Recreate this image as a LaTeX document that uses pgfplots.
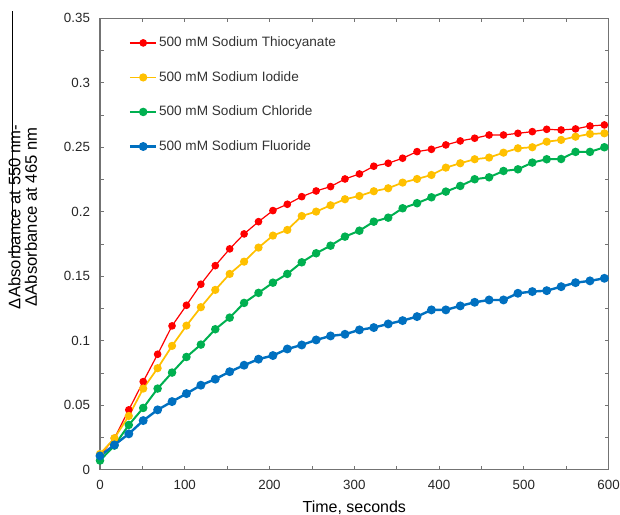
\documentclass[border=0pt]{standalone}
\usepackage{pgfplots}
\usepackage{pgfplotstable}
\pgfplotsset{compat=1.18}
\usepackage{fontspec}
\setmainfont{Liberation Sans}

\definecolor{cscn}{HTML}{FF0000}
\definecolor{ciod}{HTML}{FFC000}
\definecolor{cchl}{HTML}{00B050}
\definecolor{cflu}{HTML}{0070C0}

% time (s) and difference absorbance for each salt
\pgfplotstableread{
t   scn     iod     chl     flu
0   0.0112  0.0122  0.0071  0.0107
17  0.0244  0.0244  0.0187  0.0192
34  0.0464  0.0417  0.0347  0.0278
51  0.0683  0.0629  0.0479  0.0381
68  0.0895  0.0787  0.0629  0.0464
85  0.1115  0.0960  0.0753  0.0528
102 0.1275  0.1117  0.0874  0.0590
119 0.1438  0.1260  0.0970  0.0655
136 0.1582  0.1394  0.1089  0.0702
153 0.1712  0.1518  0.1179  0.0760
170 0.1828  0.1613  0.1293  0.0810
187 0.1923  0.1722  0.1371  0.0857
204 0.2009  0.1815  0.1450  0.0885
221 0.2058  0.1859  0.1518  0.0936
238 0.2117  0.1967  0.1608  0.0967
255 0.2161  0.2001  0.1678  0.1006
272 0.2195  0.2050  0.1737  0.1037
289 0.2254  0.2097  0.1807  0.1050
306 0.2293  0.2122  0.1853  0.1084
323 0.2353  0.2159  0.1923  0.1102
340 0.2376  0.2182  0.1954  0.1130
357 0.2415  0.2226  0.2027  0.1156
374 0.2466  0.2254  0.2066  0.1187
391 0.2484  0.2285  0.2112  0.1239
408 0.2518  0.2342  0.2156  0.1239
425 0.2549  0.2376  0.2200  0.1270
442 0.2570  0.2407  0.2252  0.1298
459 0.2595  0.2420  0.2267  0.1316
476 0.2595  0.2458  0.2316  0.1316
493 0.2608  0.2492  0.2329  0.1368
510 0.2621  0.2500  0.2381  0.1381
527 0.2639  0.2543  0.2407  0.1388
544 0.2634  0.2557  0.2409  0.1419
561 0.2642  0.2582  0.2464  0.1450
578 0.2665  0.2603  0.2464  0.1464
595 0.2673  0.2608  0.2500  0.1484
}\absdata

\begin{document}
\begin{tikzpicture}
\begin{axis}[
    width=381.5pt,
    height=338.6pt,
    scale only axis,
    xmin=0, xmax=600,
    ymin=0, ymax=0.35,
    xtick={0,100,...,600},
    ytick={0,0.05,...,0.35},
    minor x tick num=1,
    minor y tick num=1,
    tick align=inside,
    major tick length=3pt,
    minor tick length=3pt,
    tick style={black!55, line width=0.6pt},
    axis line style={black!55, line width=0.8pt},
    /pgf/number format/assume math mode=true,
    tick label style={font=\fontsize{10}{12}\selectfont, text=black!85},
    yticklabel style={/pgf/number format/fixed, /pgf/number format/precision=2, xshift=-4pt},
    xticklabel style={yshift=-4pt},
    xlabel={Time, seconds},
    xlabel style={font=\fontsize{12}{14}\selectfont, yshift=-2pt},
    ylabel={ΔAbsorbance at 550 nm-\\ΔAbsorbance at 465 nm},
    ylabel style={font=\fontsize{12.5}{12.5}\selectfont, align=center,
        at={(rel axis cs:-0.152,0.56)}, anchor=center},
    legend cell align=left,
    legend image code/.code={%
        \draw[mark repeat=2, mark phase=2] plot coordinates {(0cm,0cm) (0.35cm,0cm) (0.7cm,0cm)};},
    legend style={at={(rel axis cs:0.056,0.963)}, anchor=north west,
        draw=none, fill=none, inner sep=0pt, row sep=14.4pt,
        font=\fontsize{10.2}{12}\selectfont, text=black!80,
        nodes={text height=7.5pt, text depth=2pt, inner sep=1pt}},
    clip=false,
]
\addplot[cscn, line width=0.9pt, mark=*, mark size=2.4pt] table[x=t, y=scn] {\absdata};
\addplot[ciod, line width=1.3pt, mark=*, mark size=2.4pt] table[x=t, y=iod] {\absdata};
\addplot[cchl, line width=1.5pt, mark=*, mark size=2.4pt] table[x=t, y=chl] {\absdata};
\addplot[cflu, line width=1.8pt, mark=*, mark size=2.4pt] table[x=t, y=flu] {\absdata};
\legend{500 mM Sodium Thiocyanate, 500 mM Sodium Iodide, 500 mM Sodium Chloride, 500 mM Sodium Fluoride}
\draw[black, line width=0.6pt] (rel axis cs:-0.172,1.016) -- (rel axis cs:-0.172,0.4735);
\end{axis}
\pgfresetboundingbox
\path ([xshift=-75pt,yshift=-33.9pt]current axis.south west) rectangle ([xshift=8.55pt,yshift=13.7pt]current axis.north east);
\end{tikzpicture}
\end{document}
